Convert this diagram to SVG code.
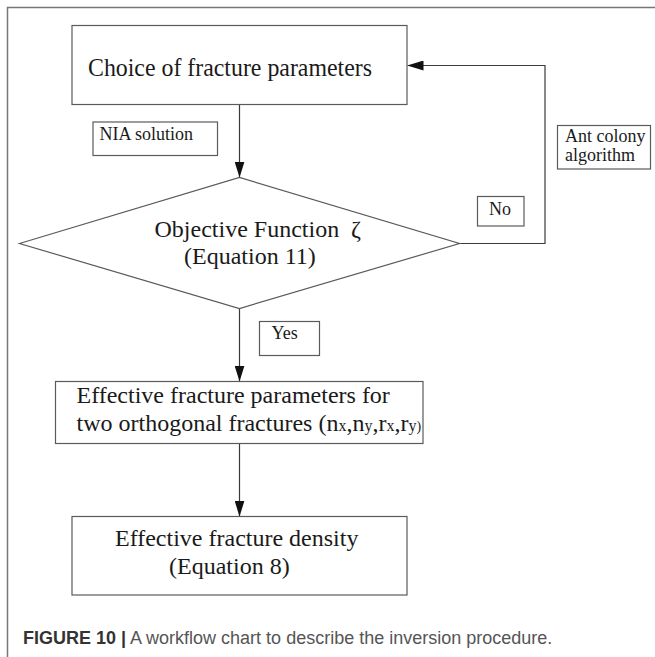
<svg xmlns="http://www.w3.org/2000/svg" width="655" height="657" viewBox="0 0 655 657">
<style>
.box{fill:#fff;stroke:#5a5a5a;stroke-width:1.2}
.ln{fill:none;stroke:#3a3a3a;stroke-width:1.2}
.t{font-family:"Liberation Serif","Times New Roman",serif;fill:#1a1a1a}
.frame{fill:none;stroke:#777;stroke-width:1.5}
.cap{font-family:"Liberation Sans",Arial,sans-serif;font-size:18px}
</style>
<defs>
<marker id="ah" viewBox="0 0 16 10" refX="16" refY="5" markerWidth="16" markerHeight="10" markerUnits="userSpaceOnUse" orient="auto">
<path d="M0,0 L16,5 L0,10 Z" fill="#111"/>
</marker>
</defs>
<rect width="655" height="657" fill="#fff"/>
<path class="frame" d="M7.5,657 V7.5 H655"/>
<g id="connectors">
<line class="ln" x1="239.5" y1="104.5" x2="239.5" y2="177.5" marker-end="url(#ah)"/>
<line class="ln" x1="239.5" y1="308.5" x2="239.5" y2="381.5" marker-end="url(#ah)"/>
<line class="ln" x1="239.5" y1="443.5" x2="239.5" y2="516.5" marker-end="url(#ah)"/>
<polyline class="ln" points="459.5,243.5 545,243.5 545,65.5 407.5,65.5" marker-end="url(#ah)"/>
</g>
<g id="choice">
<rect class="box" x="72" y="25.5" width="335" height="79"/>
<text class="t" x="88" y="76" font-size="25" textLength="284" lengthAdjust="spacingAndGlyphs">Choice of fracture parameters</text>
</g>
<g id="nia">
<rect class="box" x="93" y="122" width="124.5" height="33.5"/>
<text class="t" x="99.5" y="140" font-size="18">NIA solution</text>
</g>
<g id="objective">
<polygon class="box" points="19.5,243.5 239.5,177.5 459.5,243.5 239.5,308.5"/>
<text class="t" x="154.5" y="236.5" font-size="24">Objective Function <tspan x="351">ζ</tspan></text>
<text class="t" x="184" y="263.5" font-size="24">(Equation 11)</text>
</g>
<g id="no">
<rect class="box" x="477.5" y="196.5" width="46.5" height="29.5"/>
<text class="t" x="489" y="215" font-size="18">No</text>
</g>
<g id="ant">
<rect class="box" x="557.5" y="125.5" width="93" height="43.5"/>
<text class="t" x="565" y="141.5" font-size="18">Ant colony</text>
<text class="t" x="565" y="161" font-size="18">algorithm</text>
</g>
<g id="yes">
<rect class="box" x="259.5" y="321.5" width="60" height="34"/>
<text class="t" x="271.5" y="338.5" font-size="18">Yes</text>
</g>
<g id="params">
<rect class="box" x="55.5" y="381.5" width="367.5" height="62"/>
<text class="t" x="76.5" y="403" font-size="24">Effective fracture parameters for</text>
<text class="t" x="76.5" y="431" font-size="24">two orthogonal fractures (n<tspan font-size="16">x</tspan>,n<tspan font-size="16">y</tspan>,r<tspan font-size="16">x</tspan>,r<tspan font-size="16">y</tspan><tspan font-size="14">)</tspan></text>
</g>
<g id="density">
<rect class="box" x="72" y="516.5" width="335" height="78.5"/>
<text class="t" x="115" y="545.5" font-size="24">Effective fracture density</text>
<text class="t" x="169" y="573.5" font-size="24">(Equation 8)</text>
</g>
<g id="caption">
<text class="cap" x="23" y="644" fill="#333"><tspan font-weight="bold">FIGURE 10 |</tspan><tspan fill="#555"> A workflow chart to describe the inversion procedure.</tspan></text>
</g>
</svg>
